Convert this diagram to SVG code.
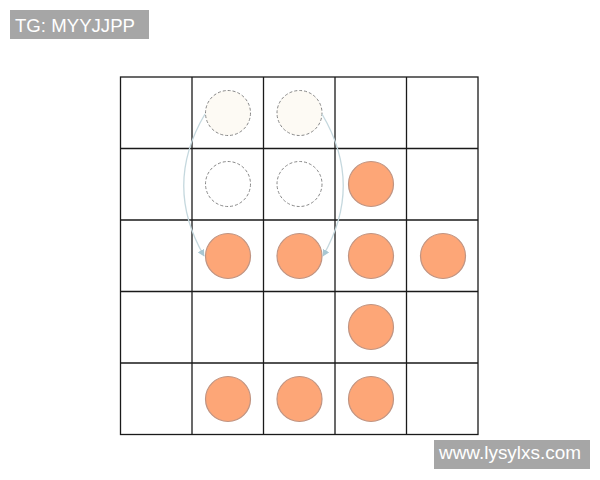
<svg xmlns="http://www.w3.org/2000/svg" width="600" height="480" viewBox="0 0 600 480">
<style>
.grid{stroke:#1a1a1a;stroke-width:1.3;fill:none}
.piece{fill:#fda677;stroke:#c09482;stroke-width:1.2}
.ghost{stroke:#888;stroke-width:1;stroke-dasharray:3 2}
.arc{fill:none;stroke:#c5d8de;stroke-width:1.3}
.lbl{fill:#a6a6a6}
.lt{font-family:"Liberation Sans",Arial,sans-serif;font-size:17.5px;fill:#ffffff}
</style>
<defs>
<marker id="ah" viewBox="0 0 10 10" refX="9" refY="5" markerWidth="7" markerHeight="7" orient="auto" markerUnits="userSpaceOnUse">
<path d="M0,0 L10,5 L0,10 z" fill="#a9c7d2"/>
</marker>
</defs>
<rect width="600" height="480" fill="#ffffff"/>
<g id="label-tg"><rect class="lbl" x="10" y="10" width="139" height="29"/><text class="lt" x="15" y="32" textLength="120" lengthAdjust="spacingAndGlyphs">TG: MYYJJPP</text></g>
<g id="board">
<rect class="grid" x="120.5" y="77" width="357.5" height="357.5"/>
<path class="grid" d="M192,77V434.5M263.5,77V434.5M335,77V434.5M406.5,77V434.5M120.5,148.5H478M120.5,220H478M120.5,291.5H478M120.5,363H478"/>
</g>
<g id="ghosts">
<circle class="ghost" cx="228" cy="113" r="22.5" fill="#fdfaf4"/>
<circle class="ghost" cx="299.5" cy="113" r="22.5" fill="#fdfaf4"/>
<circle class="ghost" cx="228" cy="184" r="22.5" fill="#ffffff"/>
<circle class="ghost" cx="299.5" cy="184" r="22.5" fill="#ffffff"/>
</g>
<g id="pieces">
<circle class="piece" cx="371" cy="184" r="22.5"/>
<circle class="piece" cx="228" cy="256" r="22.5"/>
<circle class="piece" cx="299.5" cy="256" r="22.5"/>
<circle class="piece" cx="371" cy="256" r="22.5"/>
<circle class="piece" cx="443" cy="256" r="22.5"/>
<circle class="piece" cx="371" cy="327" r="22.5"/>
<circle class="piece" cx="228" cy="399" r="22.5"/>
<circle class="piece" cx="299.5" cy="399" r="22.5"/>
<circle class="piece" cx="371" cy="399" r="22.5"/>
</g>
<g id="connectors">
<path class="arc" d="M205,114 Q163,185 204,256" marker-end="url(#ah)"/>
<path class="arc" d="M322,114 Q364,185 323,256" marker-end="url(#ah)"/>
</g>
<g id="label-www"><rect class="lbl" x="434" y="440" width="156" height="29"/><text class="lt" x="439" y="459" textLength="142" lengthAdjust="spacingAndGlyphs">www.lysylxs.com</text></g>
</svg>
